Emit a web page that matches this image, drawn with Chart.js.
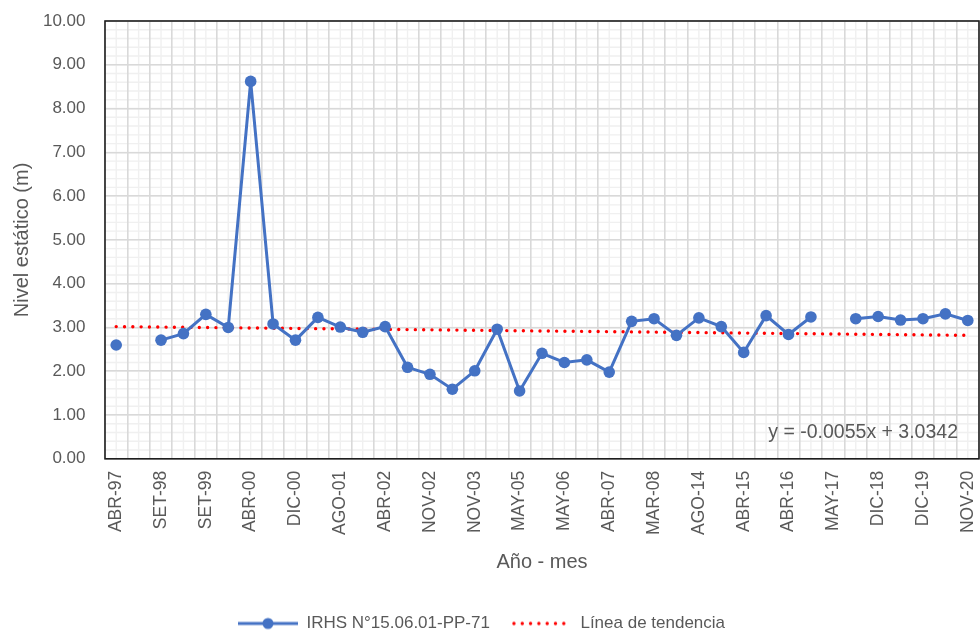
<!DOCTYPE html>
<html>
<head>
<meta charset="utf-8">
<script src="https://cdn.jsdelivr.net/npm/chart.js@4.4.1/dist/chart.umd.min.js"></script>
<style>
  html, body { margin: 0; padding: 0; background: #ffffff; }
  #wrap { width: 980px; height: 638px; }
</style>
</head>
<body>
<div id="wrap"><canvas id="myChart" width="980" height="638"></canvas></div>
<script>
// Categories (year - month)
const fechas = ['ABR-97','DIC-97','SET-98','ABR-99','SET-99','DIC-99','ABR-00','AGO-00','DIC-00','ABR-01',
  'AGO-01','DIC-01','ABR-02','AGO-02','NOV-02','MAY-03','NOV-03','NOV-04','MAY-05','NOV-05',
  'MAY-06','NOV-06','ABR-07','SET-07','MAR-08','SET-08','AGO-14','DIC-14','ABR-15','SET-15',
  'ABR-16','OCT-16','MAY-17','DIC-17','DIC-18','MAY-19','DIC-19','JUN-20','NOV-20']

// Nivel estatico (m)
const nivel = [2.60, null, 2.71, 2.86, 3.30, 3.00, 8.62, 3.08, 2.71, 3.23,
  3.01, 2.89, 3.02, 2.09, 1.93, 1.59, 2.01, 2.96, 1.55, 2.41,
  2.20, 2.26, 1.98, 3.14, 3.20, 2.82, 3.22, 3.02, 2.43, 3.27,
  2.84, 3.24, null, 3.20, 3.25, 3.17, 3.20, 3.31, 3.16]

// Trend line end points
const tendenciaInicio = 3.02
const tendenciaFin = 2.82
const tendencia = fechas.map((f, i) => i === 0 ? tendenciaInicio : (i === fechas.length - 1 ? tendenciaFin : null))

// Y axis ticks
const yTicks = [0, 1, 2, 3, 4, 5, 6, 7, 8, 9, 10]
const yMinorStep = 0.2
const ecuacion = 'y = -0.0055x + 3.0342'

const serieNombre = 'IRHS N°15.06.01-PP-71'
const tendNombre = 'Línea de tendencia'

// Formatting
const fontFamily = '"Liberation Sans", Arial, sans-serif'
const textColor = '#595959'
const blueColor = '#4472C4'
const redColor = '#FF0000'
const majorGrid = '#d9d9d9'
const minorGrid = '#f0f0f0'
const legendShift = -11

// legend icons
function iconSerie() {
    const c = document.createElement('canvas')
    c.width = 60; c.height = 14
    const g = c.getContext('2d')
    g.strokeStyle = blueColor
    g.lineWidth = 3
    g.beginPath(); g.moveTo(0, 7); g.lineTo(60, 7); g.stroke()
    g.fillStyle = blueColor
    g.beginPath(); g.arc(30, 7, 5.5, 0, Math.PI * 2); g.fill()
    return c
}
function iconTendencia() {
    const c = document.createElement('canvas')
    c.width = 60; c.height = 14
    const g = c.getContext('2d')
    g.strokeStyle = redColor
    g.lineWidth = 3.4
    g.lineCap = 'round'
    g.setLineDash([0.01, 8.3])
    g.beginPath(); g.moveTo(2, 7); g.lineTo(60, 7); g.stroke()
    return c
}

// minor grid, plot frame and equation text
const framePlugin = {
    id: 'framePlugin',
    afterLayout(chart) {
        // move legend a little to the left like the original
        chart.legend.left += legendShift
        chart.legend.right += legendShift
    },
    beforeDraw(chart) {
        const a = chart.chartArea
        const ctx = chart.ctx
        const xs = chart.scales.x
        const ys = chart.scales.y
        ctx.save()
        ctx.strokeStyle = minorGrid
        ctx.lineWidth = 1.4
        ctx.beginPath()
        fechas.forEach((f, i) => {
            const px = xs.getPixelForValue(i)
            ctx.moveTo(px, a.top); ctx.lineTo(px, a.bottom)
        })
        for (let k = 0; k * yMinorStep <= ys.max + 1e-9; k++) {
            const py = ys.getPixelForValue(k * yMinorStep)
            ctx.moveTo(a.left, py); ctx.lineTo(a.right, py)
        }
        ctx.stroke()
        ctx.restore()
    },
    beforeDatasetsDraw(chart) {
        const a = chart.chartArea
        const ctx = chart.ctx
        ctx.save()
        ctx.strokeStyle = '#1e1e1e'
        ctx.lineWidth = 1.6
        ctx.strokeRect(a.left, a.top, a.right - a.left, a.bottom - a.top)
        ctx.restore()
    },
    afterDatasetsDraw(chart) {
        const a = chart.chartArea
        const ctx = chart.ctx
        ctx.save()
        ctx.font = '19.5px ' + fontFamily
        ctx.fillStyle = textColor
        ctx.textAlign = 'right'
        ctx.textBaseline = 'middle'
        ctx.fillText(ecuacion, a.right - 21, chart.scales.y.getPixelForValue(0.6))
        ctx.restore()
    }
}

const ctx = document.getElementById('myChart').getContext('2d')
const config = {
    type: 'line',
    data: {
        labels: fechas,
        datasets: [{
            label: serieNombre,
            data: nivel,
            borderColor: blueColor,
            backgroundColor: blueColor,
            borderWidth: 3,
            pointRadius: 5.8,
            pointBackgroundColor: blueColor,
            pointBorderWidth: 0,
            spanGaps: false,
            tension: 0,
            fill: false,
            order: 1
        }, {
            label: tendNombre,
            data: tendencia,
            borderColor: redColor,
            borderWidth: 3.4,
            borderDash: [0.01, 8.3],
            borderCapStyle: 'round',
            pointRadius: 0,
            spanGaps: true,
            fill: false,
            order: 2
        }]
    },
    options: {
        responsive: false,
        animation: false,
        layout: { autoPadding: false, padding: { top: 21, left: 6, right: 1, bottom: -4 } },
        plugins: {
            tooltip: { enabled: false },
            legend: {
                position: 'bottom',
                labels: {
                    color: textColor,
                    font: { family: fontFamily, size: 17 },
                    usePointStyle: true,
                    pointStyleWidth: 60,
                    padding: 22,
                    generateLabels: () => [
                        { text: serieNombre, pointStyle: iconSerie(), fontColor: textColor, lineWidth: 0, strokeStyle: 'transparent', fillStyle: 'transparent', datasetIndex: 0 },
                        { text: tendNombre, pointStyle: iconTendencia(), fontColor: textColor, lineWidth: 0, strokeStyle: 'transparent', fillStyle: 'transparent', datasetIndex: 1 }
                    ]
                }
            }
        },
        scales: {
            x: {
                type: 'category',
                offset: true,
                grid: { offset: true, color: majorGrid, lineWidth: 1.6, drawTicks: false },
                border: { display: false },
                afterFit: (scale) => { scale.paddingLeft = 0; scale.paddingRight = 0 },
                ticks: {
                    autoSkip: false,
                    maxRotation: 90,
                    minRotation: 90,
                    padding: 12,
                    color: textColor,
                    font: { family: fontFamily, size: 17.5 },
                    callback: function(value, index) {
                        return index % 2 === 0 ? fechas[index] : ''
                    }
                },
                title: {
                    display: true,
                    text: 'Año - mes',
                    color: textColor,
                    font: { family: fontFamily, size: 20 },
                    padding: { top: 3, bottom: 19 }
                }
            },
            y: {
                min: 0,
                max: 10,
                afterBuildTicks: (axis) => { axis.ticks = yTicks.map(v => ({ value: v })) },
                afterFit: (scale) => { scale.paddingTop = 0; scale.paddingBottom = 0; scale.width = 99 },
                grid: { color: majorGrid, lineWidth: 1.6, drawTicks: false },
                border: { display: false },
                ticks: {
                    padding: 19.5,
                    color: textColor,
                    font: { family: fontFamily, size: 17 },
                    callback: (v) => Number(v).toFixed(2)
                },
                title: {
                    display: true,
                    text: 'Nivel estático (m)',
                    color: textColor,
                    font: { family: fontFamily, size: 20 },
                    padding: { top: 4, bottom: 9 }
                }
            }
        }
    },
    plugins: [framePlugin]
}

const myChart = new Chart(ctx, config)
</script>
</body>
</html>
